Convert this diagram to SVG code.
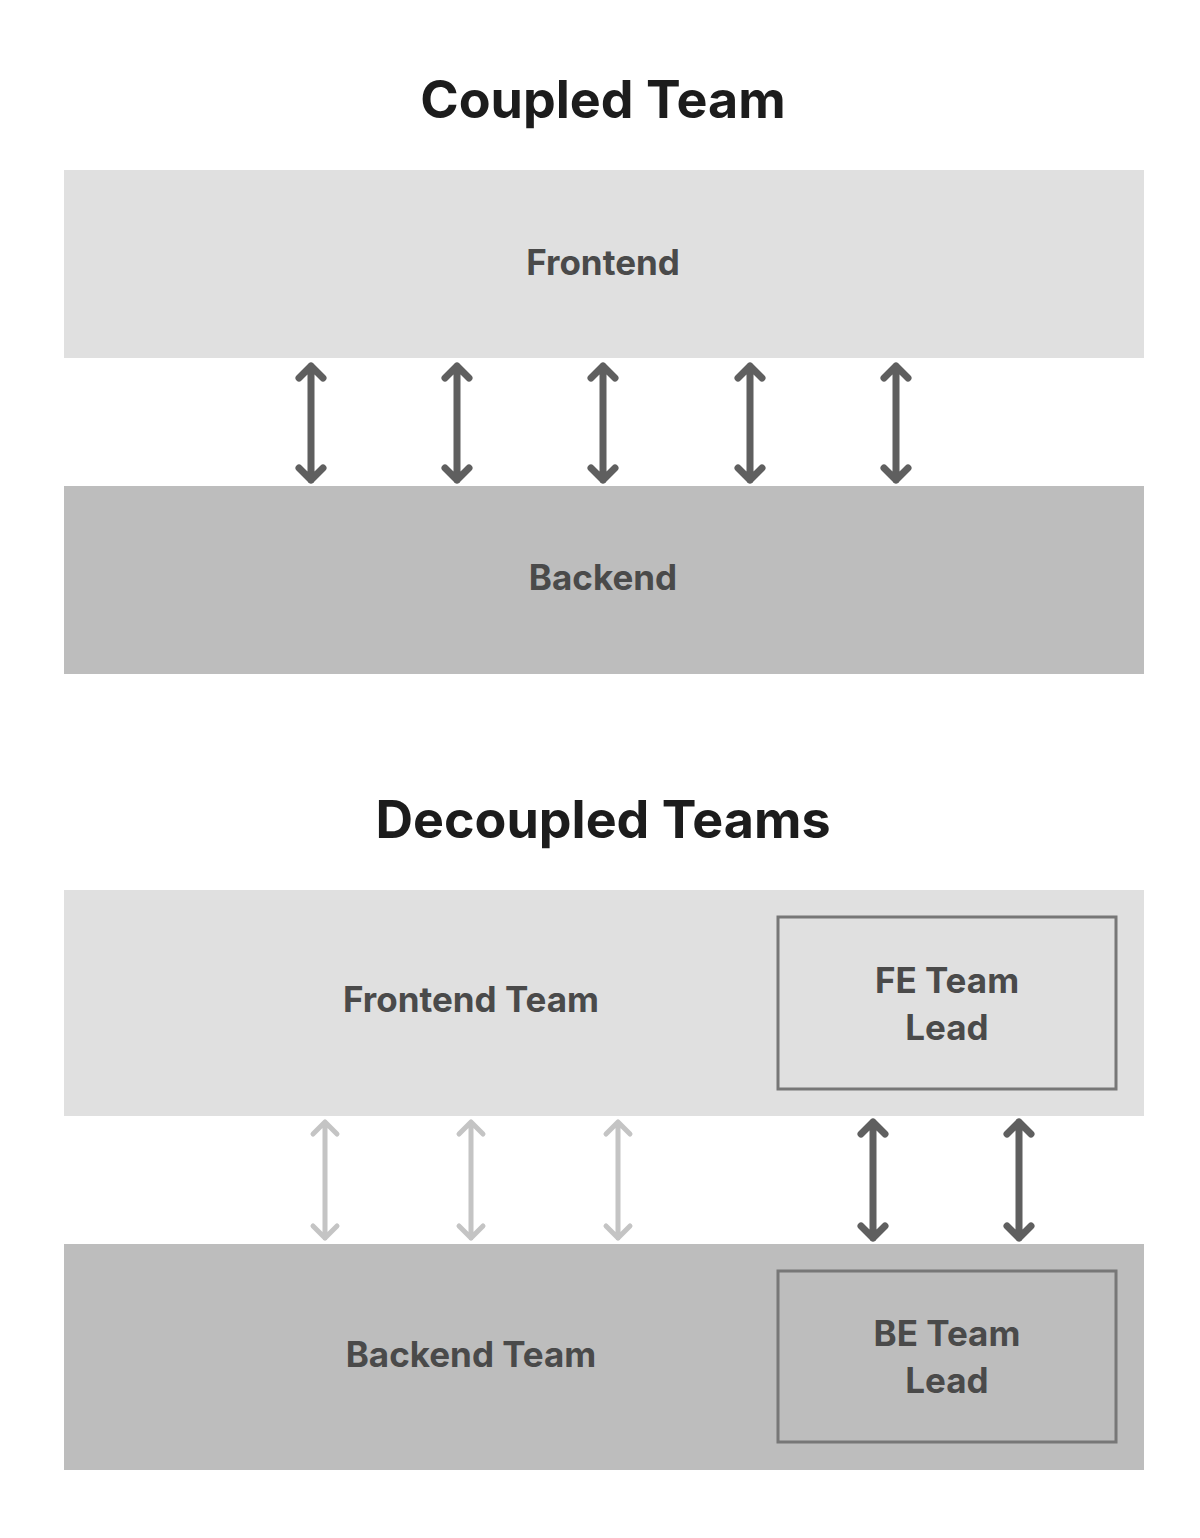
<svg xmlns="http://www.w3.org/2000/svg" width="1200" height="1538" viewBox="0 0 1200 1538">
<style>
.t{font-family:"Inter","Open Sans",sans-serif;font-weight:700;fill:#1c1c1c;text-anchor:middle}
.l{font-family:"Inter","Open Sans",sans-serif;font-weight:700;fill:#4a4a4a;text-anchor:middle;font-size:35px}
.fe{fill:#e0e0e0}.be{fill:#bdbdbd}
.lead{stroke:#777;stroke-width:3}
.d{stroke:#5f5f5f;stroke-width:7;fill:none;stroke-linecap:round;stroke-linejoin:round}
.g{stroke:#c4c4c4;stroke-width:5;fill:none;stroke-linecap:round;stroke-linejoin:round}
</style>
<rect width="1200" height="1538" fill="#fff"/>
<text class="t" x="603" y="118" font-size="52">Coupled Team</text>
<text class="t" x="603" y="838" font-size="52">Decoupled Teams</text>
<g id="frontend"><rect class="fe" x="64" y="170" width="1080" height="188"/><text class="l" x="603" y="275">Frontend</text></g>
<g id="backend"><rect class="be" x="64" y="486" width="1080" height="188"/><text class="l" x="603" y="590">Backend</text></g>
<g id="frontend-team"><rect class="fe" x="64" y="890" width="1080" height="226"/><text class="l" x="471" y="1012">Frontend Team</text></g>
<g id="fe-lead"><rect class="fe lead" x="778" y="917" width="338" height="172"/><text class="l" x="947" y="993">FE Team</text><text class="l" x="947" y="1040">Lead</text></g>
<g id="backend-team"><rect class="be" x="64" y="1244" width="1080" height="226"/><text class="l" x="471" y="1367">Backend Team</text></g>
<g id="be-lead"><rect class="be lead" x="778" y="1271" width="338" height="171"/><text class="l" x="947" y="1346">BE Team</text><text class="l" x="947" y="1393">Lead</text></g>
<g id="connectors">
<g class="d">
<path d="M311 366V480M299 378L311 366L323 378M299 468L311 480L323 468"/>
<path d="M457 366V480M445 378L457 366L469 378M445 468L457 480L469 468"/>
<path d="M603 366V480M591 378L603 366L615 378M591 468L603 480L615 468"/>
<path d="M750 366V480M738 378L750 366L762 378M738 468L750 480L762 468"/>
<path d="M896 366V480M884 378L896 366L908 378M884 468L896 480L908 468"/>
<path d="M873 1122V1238M861 1134L873 1122L885 1134M861 1226L873 1238L885 1226"/>
<path d="M1019 1122V1238M1007 1134L1019 1122L1031 1134M1007 1226L1019 1238L1031 1226"/>
</g>
<g class="g">
<path d="M325 1122V1238M313 1134L325 1122L337 1134M313 1226L325 1238L337 1226"/>
<path d="M471 1122V1238M459 1134L471 1122L483 1134M459 1226L471 1238L483 1226"/>
<path d="M618 1122V1238M606 1134L618 1122L630 1134M606 1226L618 1238L630 1226"/>
</g>
</g>
</svg>
